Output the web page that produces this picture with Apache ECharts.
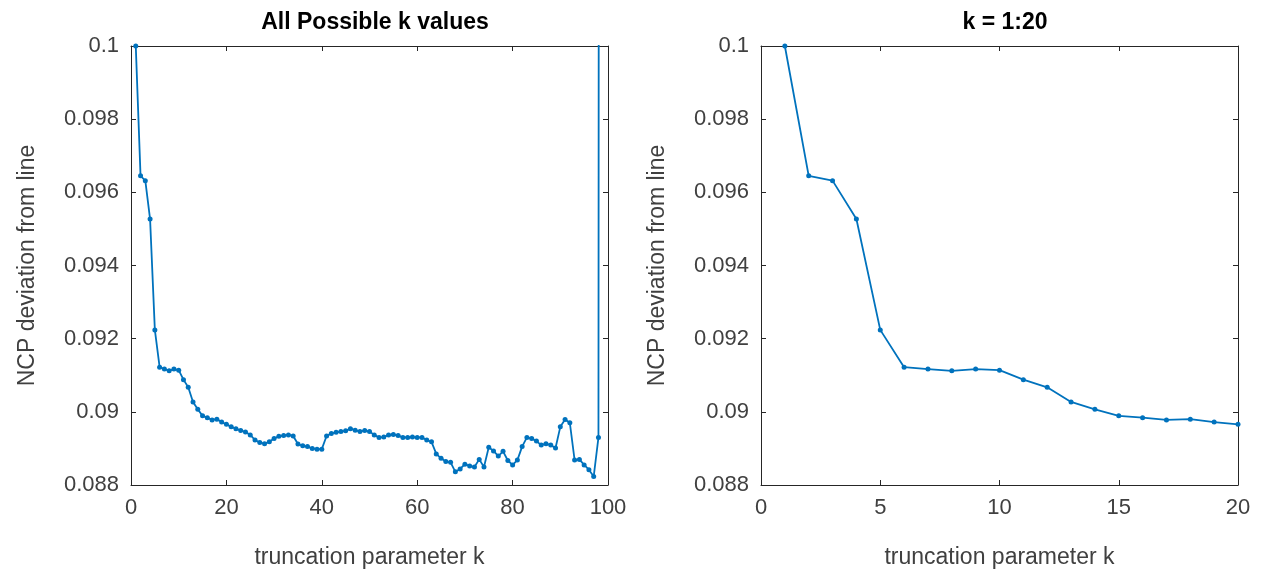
<!DOCTYPE html>
<html lang="en">

<head>
  <meta charset="utf-8" />
  <title></title>
  <script src="https://cdn.jsdelivr.net/npm/echarts@6/dist/echarts.min.js"></script>
  <style>
    * {
      margin: 0;
      padding: 0;
    }

    #chart-container {
      position: relative;
      width: 1265px;
      height: 575px;
      overflow: hidden;
      background: #fff;
    }
  </style>
</head>

<body>
  <div id="chart-container"></div>

  <script>
    // truncation parameter k = 1..99
    var kValues = [];
    for (var i = 1; i <= 99; i++) kValues.push(i);

    // NCP deviation from line (k = 99 shoots off the top)
    var ncpValues = [
      0.1, 0.09645, 0.09632, 0.09527, 0.09224, 0.09122, 0.09117, 0.09112, 0.09117, 0.09114,
      0.09088, 0.09067, 0.09027, 0.09007, 0.08989, 0.08984, 0.08978, 0.08980, 0.08972, 0.08966,
      0.08959, 0.08954, 0.08949, 0.08945, 0.08937, 0.08923, 0.08916, 0.08913, 0.08918, 0.08927,
      0.08933, 0.08935, 0.08937, 0.08934, 0.08912, 0.08907, 0.08905, 0.08900, 0.08898, 0.08898,
      0.08934, 0.08941, 0.08944, 0.08946, 0.08948, 0.08954, 0.08950, 0.08946, 0.08949, 0.08946,
      0.08937, 0.08930, 0.08931, 0.08937, 0.08938, 0.08935, 0.08930, 0.08930, 0.08931, 0.08930,
      0.08930, 0.08923, 0.08918, 0.08885, 0.08873, 0.08864, 0.08862, 0.08836, 0.08844, 0.08857,
      0.08852, 0.08849, 0.08870, 0.08849, 0.08903, 0.08893, 0.08879, 0.08892, 0.08867, 0.08855,
      0.08868, 0.08905, 0.08930, 0.08927, 0.08920, 0.08909, 0.08913, 0.08909, 0.08901, 0.08959,
      0.08979, 0.08970, 0.08868, 0.08870, 0.08855, 0.08842, 0.08823, 0.08930, 0.3
    ];

    var zoomCount = 20;

    var yMin = 0.088;
    var yMax = 0.1;
    var yStep = 0.002;

    var titles = ["All Possible k values", "k = 1:20"];
    var xLabel = "truncation parameter k";
    var yLabel = "NCP deviation from line";
  </script>

  <script>
    var dom = document.getElementById("chart-container");
    var myChart = echarts.init(dom, null, { renderer: "canvas" });

    var lineColor = "#0072BD";
    var axisColor = "#262626";
    var textColor = "#404040";
    var font = "Liberation Sans, Arial, sans-serif";

    var allData = kValues.map(function (k, i) { return [k, ncpValues[i]]; });
    var zoomData = allData.slice(0, zoomCount);

    var fmtY = function (v) { return String(+v.toFixed(3)); };

    function xAxes(gridIndex, max, interval) {
      var base = {
        gridIndex: gridIndex,
        type: "value",
        min: 0,
        max: max,
        interval: interval,
        splitLine: { show: false },
        axisLine: { show: true, onZero: false, lineStyle: { color: axisColor, width: 1 } },
        axisTick: { show: true, inside: true, length: 5, lineStyle: { color: axisColor } },
      };
      return [
        Object.assign({}, base, {
          position: "bottom",
          name: xLabel,
          nameLocation: "middle",
          nameGap: 61,
          nameTextStyle: { color: textColor, fontSize: 23, fontFamily: font },
          axisLabel: { color: textColor, fontSize: 22, fontFamily: font, margin: 12 },
        }),
        Object.assign({}, base, { position: "top", axisLabel: { show: false } }),
      ];
    }

    function yAxes(gridIndex) {
      var base = {
        gridIndex: gridIndex,
        type: "value",
        min: yMin,
        max: yMax,
        interval: yStep,
        splitLine: { show: false },
        axisLine: { show: true, onZero: false, lineStyle: { color: axisColor, width: 1 } },
        axisTick: { show: true, inside: true, length: 5, lineStyle: { color: axisColor } },
      };
      return [
        Object.assign({}, base, {
          position: "left",
          name: yLabel,
          nameLocation: "middle",
          nameGap: 92,
          nameTextStyle: { color: textColor, fontSize: 23, fontFamily: font },
          axisLabel: { color: textColor, fontSize: 22, fontFamily: font, margin: 12, formatter: fmtY },
        }),
        Object.assign({}, base, { position: "right", axisLabel: { show: false } }),
      ];
    }

    var series = function (xi, yi, data) {
      return {
        type: "line",
        xAxisIndex: xi,
        yAxisIndex: yi,
        data: data,
        clip: true,
        symbol: "circle",
        symbolSize: 5,
        showSymbol: true,
        lineStyle: { color: lineColor, width: 1.8 },
        itemStyle: { color: lineColor },
        emphasis: { disabled: true },
        animation: false,
      };
    };

    var option = {
      backgroundColor: "#fff",
      title: [
        {
          text: titles[0], left: 370, top: 6, textAlign: "center",
          textStyle: { fontSize: 23, fontWeight: "bold", color: "#000", fontFamily: font },
        },
        {
          text: titles[1], left: 1000, top: 6, textAlign: "center",
          textStyle: { fontSize: 23, fontWeight: "bold", color: "#000", fontFamily: font },
        },
      ],
      grid: [
        { left: 131, top: 46, width: 477, height: 439 },
        { left: 761, top: 46, width: 477, height: 439 },
      ],
      xAxis: xAxes(0, 100, 20).concat(xAxes(1, 20, 5)),
      yAxis: yAxes(0).concat(yAxes(1)),
      series: [series(0, 0, allData), series(2, 2, zoomData)],
    };

    myChart.setOption(option);

    window.addEventListener("resize", myChart.resize);
  </script>
</body>

</html>
